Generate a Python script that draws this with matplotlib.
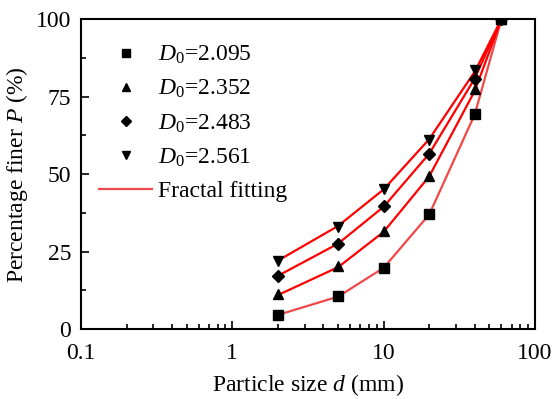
import numpy as np
import matplotlib
matplotlib.use('Agg')
import matplotlib.pyplot as plt
from matplotlib.ticker import FixedLocator, FixedFormatter, LogLocator, NullFormatter, MultipleLocator

plt.rcParams['font.family'] = ['Liberation Serif', 'DejaVu Serif']
plt.rcParams['mathtext.fontset'] = 'custom'
plt.rcParams['mathtext.rm'] = 'Liberation Serif'
plt.rcParams['mathtext.it'] = 'Liberation Serif:italic'

# particle sizes (mm)
d = [2, 5, 10, 20, 40, 60]

labels = ['2.095', '2.352', '2.483', '2.561']
markers = ['s', '^', 'D', 'v']

# measured percentage finer
p_2095 = [4.7, 10.7, 19.8, 37.1, 69.3, 100]
p_2352 = [11.2, 20.4, 31.7, 49.5, 77.6, 100]
p_2483 = [17.2, 27.4, 39.6, 56.5, 80.8, 100]
p_2561 = [22.0, 33.0, 45.2, 61.0, 83.5, 100]
measured = [p_2095, p_2352, p_2483, p_2561]

# fractal fitting curves
f_2095 = [4.6, 10.5, 19.8, 37.0, 69.3, 100]
f_2352 = [11.0, 20.0, 31.4, 49.3, 76.9, 100]
f_2483 = [17.2, 27.6, 39.5, 56.6, 80.9, 100]
f_2561 = [22.1, 33.3, 45.1, 61.3, 83.1, 100]
fits = [f_2095, f_2352, f_2483, f_2561]
fit_colors = ['#f04848', 'red', 'red', 'red']

fs = 17

fig = plt.figure(figsize=(5.53, 3.99), dpi=100)
ax = fig.add_axes([0.1465, 0.175, 0.821, 0.777])

handles = []
for i in range(4):
    line, = ax.plot(d, fits[i], color=fit_colors[i], lw=1.6, zorder=2)
    if i == 0:
        fit_handle = line
    h, = ax.plot(d, measured[i], ls='none', marker=markers[i], color='black',
                 ms=7 if markers[i] != 'D' else 6, zorder=3,
                 label='$D_0$=' + labels[i])
    handles.append(h)

ax.set_xscale('log')
ax.set_xlim(0.1, 100)
ax.set_ylim(0, 100)
ax.xaxis.set_major_locator(FixedLocator([0.1, 1, 10, 100]))
ax.xaxis.set_major_formatter(FixedFormatter(['0.1', '1', '10', '100']))
ax.xaxis.set_minor_locator(LogLocator(base=10, subs=np.arange(2, 10)))
ax.xaxis.set_minor_formatter(NullFormatter())
ax.yaxis.set_major_locator(MultipleLocator(25))
ax.yaxis.set_minor_locator(MultipleLocator(12.5))

ax.tick_params(which='both', direction='in', labelsize=fs, width=1.2)
ax.tick_params(which='major', length=6)
ax.tick_params(axis='x', which='major', pad=10)
ax.tick_params(axis='y', which='major', pad=7)
ax.tick_params(which='minor', length=3.5)
for s in ax.spines.values():
    s.set_linewidth(1.5)

ax.set_xlabel('Particle size $d$ (mm)', fontsize=fs, labelpad=6)
ax.set_ylabel('Percentage finer $P$ (%)', fontsize=fs, labelpad=4)

fit_handle.set_label('Fractal fitting')
ax.legend(handles=handles + [fit_handle], loc='upper left', frameon=False,
          fontsize=fs, handlelength=2.25, handletextpad=0.25, labelspacing=0.5,
          markerscale=0.85, borderpad=0.2, borderaxespad=0.0,
          bbox_to_anchor=(0.03, 0.935))

fig.savefig('out.png', dpi=100)
